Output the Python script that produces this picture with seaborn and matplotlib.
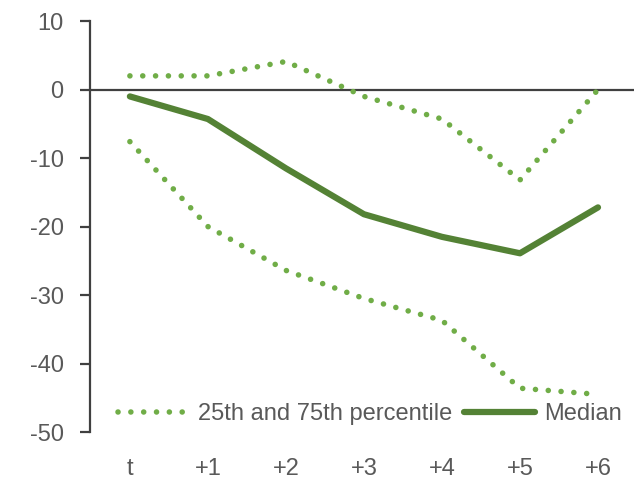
import matplotlib
matplotlib.use("Agg")
import matplotlib.pyplot as plt
import pandas as pd
import seaborn as sns

# horizon labels and series
periods = ["t", "+1", "+2", "+3", "+4", "+5", "+6"]
median = [-1.0, -4.3, -11.5, -18.2, -21.5, -23.9, -17.2]
p75 = [2.0, 2.0, 4.1, -1.0, -4.3, -13.2, 0.0]
p25 = [-7.6, -20.0, -26.4, -30.5, -33.7, -43.6, -44.5]

sns.set_style("white")
plt.rcParams["font.family"] = ["Liberation Sans", "DejaVu Sans"]
plt.rcParams["axes.unicode_minus"] = False

light_green = "#70AD47"
dark_green = "#548235"
grey_text = "#595959"

df = pd.DataFrame({"x": range(len(periods)), "median": median, "p75": p75, "p25": p25})

fig = plt.figure(figsize=(6.39, 4.79), dpi=100)
ax = fig.add_axes([0.141, 0.098, 0.851, 0.858])

ax.axhline(0, color="#404040", lw=1.6, zorder=1)

dot_style = dict(color=light_green, lw=4.0, linestyle=(0, (0.01, 2.3)),
                 dash_capstyle="round")
sns.lineplot(data=df, x="x", y="p75", ax=ax, label="25th and 75th percentile", **dot_style)
sns.lineplot(data=df, x="x", y="p25", ax=ax, label="_nolegend_", **dot_style)
sns.lineplot(data=df, x="x", y="median", ax=ax, color=dark_green, lw=4.5,
             label="Median", solid_capstyle="round")

ax.set_xlim(-0.51, 6.46)
ax.set_ylim(-50, 10)
ax.set_yticks(range(-50, 11, 10))
ax.set_xticks(range(len(periods)))
ax.set_xticklabels(periods)
ax.set_xlabel("")
ax.set_ylabel("")

for side in ["top", "right", "bottom"]:
    ax.spines[side].set_visible(False)
ax.spines["left"].set_color("#404040")
ax.spines["left"].set_linewidth(1.6)

ax.tick_params(axis="y", direction="out", length=7, width=1.6, color="#404040",
               labelsize=17, labelcolor=grey_text, pad=12, left=True)
ax.tick_params(axis="x", length=0, labelsize=17, labelcolor=grey_text, pad=19)

leg = ax.legend(loc="lower center", bbox_to_anchor=(0.515, -0.035), ncol=2, frameon=False,
                fontsize=17, handlelength=3.0, columnspacing=0.5, handletextpad=0.4)
for t in leg.get_texts():
    t.set_color(grey_text)

fig.savefig("out.png", dpi=100)
